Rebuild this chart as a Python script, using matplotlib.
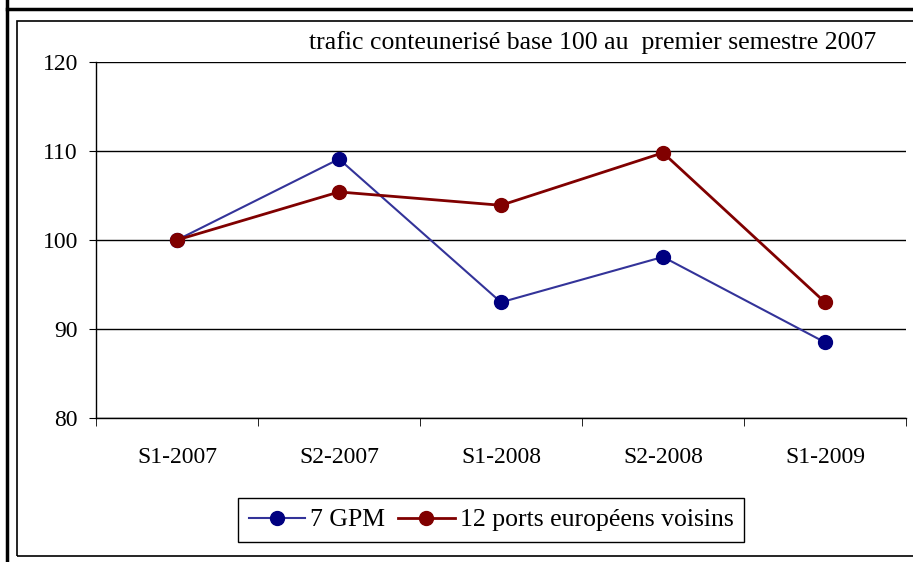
import matplotlib.pyplot as plt
from matplotlib.lines import Line2D
from matplotlib.patches import Rectangle

# data
periods = ["S1-2007", "S2-2007", "S1-2008", "S2-2008", "S1-2009"]
gpm = [100, 109.1, 93.0, 98.1, 88.5]
europe = [100, 105.4, 103.9, 109.8, 93.0]
series_names = ["7 GPM", "12 ports européens voisins"]
title = "trafic conteunerisé base 100 au  premier semestre 2007"

W, H = 913, 562
plt.rcParams['font.family'] = ['Liberation Serif', 'DejaVu Serif']
fig = plt.figure(figsize=(W / 100, H / 100), dpi=100)

# outer frame lines and inner box
fig.add_artist(Line2D([6.5 / W, 6.5 / W], [0, 1], color="black", lw=2.5))
fig.add_artist(Line2D([6.5 / W, 1], [1 - 9 / H, 1 - 9 / H], color="black", lw=2.5))
fig.add_artist(Rectangle((17 / W, 1 - 556 / H), 1.0, (556 - 21) / H,
                         fill=False, ec="black", lw=1.2))

ax = fig.add_axes([96 / W, 1 - 418 / H, (906 - 96) / W, (418 - 62) / H])
x = list(range(len(periods)))
ax.plot(x, gpm, color="#333399", lw=1.5, marker="o", ms=10,
        mfc="#000080", mec="#000080", label=series_names[0], clip_on=False)
ax.plot(x, europe, color="#800000", lw=2.0, marker="o", ms=10,
        mfc="#800000", mec="#800000", label=series_names[1], clip_on=False)

ax.set_xlim(-0.5, len(periods) - 0.5)
ax.set_ylim(80, 120)
ax.set_yticks([80, 90, 100, 110, 120])
ax.yaxis.grid(True, color="black", lw=1.0)
ax.set_axisbelow(True)
ax.set_xticks(x)
ax.set_xticklabels(periods)
ax.set_xticks([i - 0.5 for i in range(len(periods) + 1)], minor=True)
ax.tick_params(axis="x", which="major", length=0, pad=21, labelsize=17)
ax.tick_params(axis="x", which="minor", length=5.5, direction="out", color="black")
ax.tick_params(axis="y", length=5, direction="out", pad=8, labelsize=17)
for s in ["top", "right"]:
    ax.spines[s].set_visible(False)
for s in ["left", "bottom"]:
    ax.spines[s].set_color("black")
    ax.spines[s].set_linewidth(1.0)

fig.text(876 / W, 1 - 43 / H, title, ha="right", va="center", fontsize=18.5)

fig.legend(loc="center", bbox_to_anchor=(491 / W, 1 - 520 / H), ncol=2,
           fontsize=18.5, frameon=True, fancybox=False, edgecolor="black",
           framealpha=1, handlelength=2.2, handletextpad=0.2, columnspacing=0.5,
           borderpad=0.4, borderaxespad=0)

fig.savefig("out.png", dpi=100)
